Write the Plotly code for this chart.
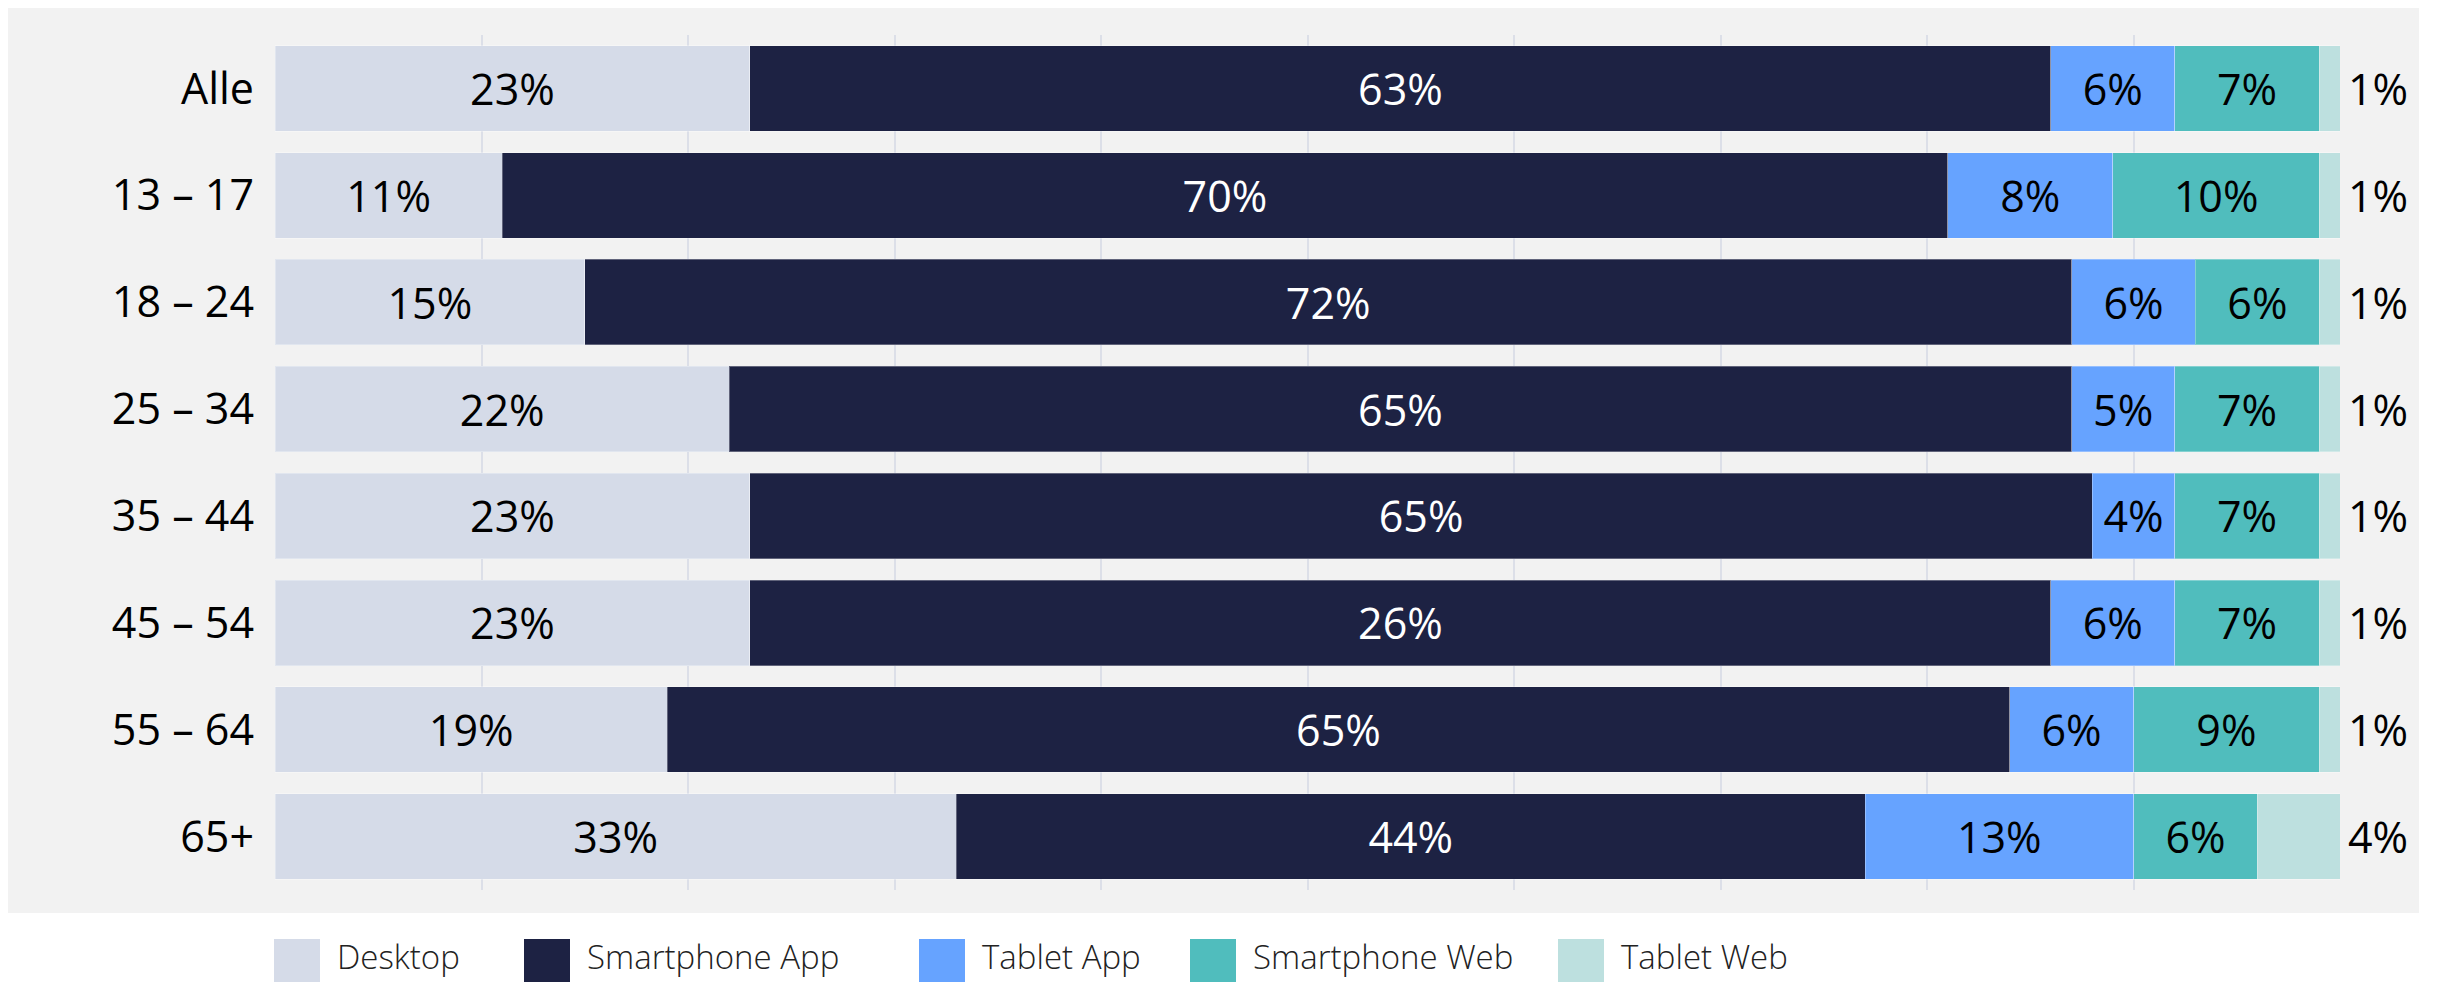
import plotly.graph_objects as go

GROUPS = ["Alle", "13 – 17", "18 – 24", "25 – 34", "35 – 44", "45 – 54", "55 – 64", "65+"]

DESKTOP = [23, 11, 15, 22, 23, 23, 19, 33]
SMARTPHONE_APP = [63, 70, 72, 65, 65, 63, 65, 44]
TABLET_APP = [6, 8, 6, 5, 4, 6, 6, 13]
SMARTPHONE_WEB = [7, 10, 6, 7, 7, 7, 9, 6]
TABLET_WEB = [1, 1, 1, 1, 1, 1, 1, 4]

# the printed label for 45 – 54 in the source reads 26% although the bar is 63% long
SMARTPHONE_APP_LABELS = ["63%", "70%", "72%", "65%", "65%", "26%", "65%", "44%"]

SERIES = ["Desktop", "Smartphone App", "Tablet App", "Smartphone Web", "Tablet Web"]
COLORS = ["#d5dbe8", "#1d2243", "#66a3ff", "#50bdbd", "#bde0df"]
TEXT_COLORS = ["#000000", "#ffffff", "#000000", "#000000", "#000000"]

FONT = "Open Sans"
# page body has an 8px default margin, so lay everything out 8px up/left
OFF = 8
W, H = 2438 - OFF, 982 - OFF
PLOT_L, PLOT_R, PLOT_T, PLOT_B = 275 - OFF, 2340 - OFF, 35 - OFF, 890 - OFF


def px_x(x):
    return (x - OFF - PLOT_L) / (PLOT_R - PLOT_L)


def px_y(y):
    return (PLOT_B - (y - OFF)) / (PLOT_B - PLOT_T)


values = [DESKTOP, SMARTPHONE_APP, TABLET_APP, SMARTPHONE_WEB, TABLET_WEB]
labels = [
    [f"{v}%" for v in DESKTOP],
    SMARTPHONE_APP_LABELS,
    [f"{v}%" for v in TABLET_APP],
    [f"{v}%" for v in SMARTPHONE_WEB],
    None,
]

fig = go.Figure()
for name, vals, text, color, tcolor in zip(SERIES, values, labels, COLORS, TEXT_COLORS):
    fig.add_trace(
        go.Bar(
            y=GROUPS,
            x=vals,
            name=name,
            orientation="h",
            marker=dict(color=color, line=dict(width=1, color="rgba(255,255,255,0.3)")),
            text=text,
            textposition="inside" if text else "none",
            insidetextanchor="middle",
            textangle=0,
            constraintext="none",
            insidetextfont=dict(family=FONT, size=43, color=tcolor),
        )
    )

# last segment's value is printed to the right of each bar
annotations = []
for g, d, a, t, s, w in zip(GROUPS, DESKTOP, SMARTPHONE_APP, TABLET_APP, SMARTPHONE_WEB, TABLET_WEB):
    annotations.append(
        dict(
            x=d + a + t + s + w,
            y=g,
            xref="x",
            yref="y",
            text=f"{w}%",
            showarrow=False,
            xanchor="center",
            xshift=38,
            font=dict(family=FONT, size=43, color="#000000"),
        )
    )

# grey panel + custom legend with big square swatches
LEGEND_X = [274, 524, 919, 1190, 1558]
shapes = [
    dict(
        type="rect",
        xref="paper",
        yref="paper",
        x0=px_x(7),
        x1=px_x(2419),
        y0=px_y(7),
        y1=px_y(913),
        fillcolor="#f2f2f2",
        line=dict(width=0),
        layer="below",
    )
]
for name, color, lx in zip(SERIES, COLORS, LEGEND_X):
    shapes.append(
        dict(
            type="rect",
            xref="paper",
            yref="paper",
            x0=px_x(lx),
            x1=px_x(lx + 46),
            y0=px_y(939),
            y1=px_y(990),
            fillcolor=color,
            line=dict(width=0),
        )
    )
    annotations.append(
        dict(
            x=px_x(lx + 61),
            y=px_y(981),
            xref="paper",
            yref="paper",
            text=name,
            showarrow=False,
            xanchor="left",
            yanchor="bottom",
            font=dict(family=FONT, size=33, color="#222222", weight=300),
        )
    )

fig.update_layout(
    barmode="stack",
    bargap=0.2,
    width=W,
    height=H,
    autosize=False,
    margin=dict(l=PLOT_L, r=W - PLOT_R, t=PLOT_T, b=H - PLOT_B, pad=0),
    paper_bgcolor="#ffffff",
    plot_bgcolor="rgba(0,0,0,0)",
    showlegend=False,
    shapes=shapes,
    annotations=annotations,
    font=dict(family=FONT, size=43, color="#000000"),
)
fig.update_xaxes(
    range=[0, 100],
    dtick=10,
    showticklabels=False,
    showgrid=True,
    gridcolor="#dcdfe8",
    gridwidth=2,
    zeroline=False,
    fixedrange=True,
)
fig.update_yaxes(
    autorange="reversed",
    showgrid=False,
    ticks="",
    ticklabelstandoff=20,
    tickfont=dict(family=FONT, size=43, color="#000000"),
    fixedrange=True,
)

fig.write_html("out.html")
